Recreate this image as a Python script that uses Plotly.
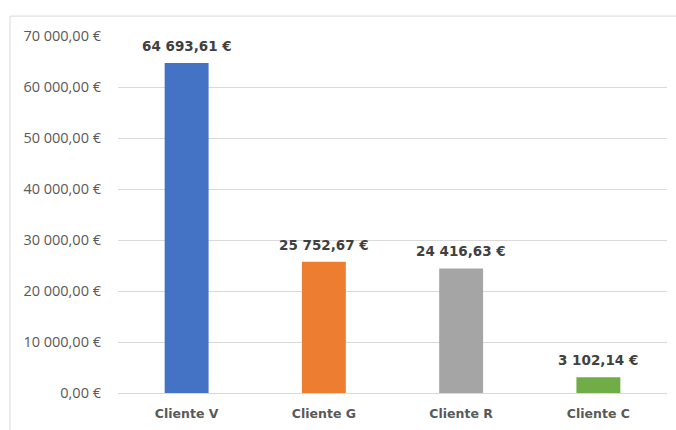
import plotly.graph_objects as go

categories = ["Cliente V", "Cliente G", "Cliente R", "Cliente C"]
values = [64693.61, 25752.67, 24416.63, 3102.14]
colors = ["#4472C4", "#ED7D31", "#A5A5A5", "#70AD47"]
tick_values = [0, 10000, 20000, 30000, 40000, 50000, 60000, 70000]


def eur(v):
    s = f"{v:,.2f}"
    return s.replace(",", " ").replace(".", ",") + " €"


tick_labels = [eur(v) for v in tick_values]
value_labels = [eur(v) for v in values]

W, H = 676, 430
ml, mr, mt, mb = 118, 9, 36, 35
pw, ph = W - ml - mr, H - mt - mb

fig = go.Figure(go.Bar(
    x=categories, y=values,
    marker=dict(color=colors, line=dict(width=0)),
    width=0.32,
    cliponaxis=False,
))

for c, v, t in zip(categories, values, value_labels):
    fig.add_annotation(
        x=c, y=v, text=t, showarrow=False, yanchor="bottom", yshift=7,
        font=dict(family="DejaVu Sans", size=13.5, color="#404040", weight="bold"),
    )


def px_x(x):
    return (x - ml) / pw


def px_y(y):
    return (H - mb - y) / ph


fig.update_layout(
    width=W, height=H,
    margin=dict(l=ml, r=mr, t=mt, b=mb),
    paper_bgcolor="white", plot_bgcolor="white",
    showlegend=False,
    xaxis=dict(
        showgrid=False, showline=False, ticks="",
        tickfont=dict(family="DejaVu Sans", size=12.5, color="#595959", weight="bold"),
        ticklabelstandoff=11,
    ),
    yaxis=dict(
        range=[0, 70000], tickvals=tick_values, ticktext=tick_labels,
        showgrid=True, gridcolor="#D9D9D9", gridwidth=1,
        zeroline=True, zerolinecolor="#D9D9D9", zerolinewidth=1,
        showline=False, ticks="",
        tickfont=dict(family="Open Sans", size=14.5, color="#595959"),
        ticklabelstandoff=16,
    ),
    shapes=[
        dict(type="line", xref="paper", yref="paper",
             x0=px_x(10), x1=px_x(W + 5), y0=px_y(16), y1=px_y(16),
             line=dict(color="#D9D9D9", width=1)),
        dict(type="line", xref="paper", yref="paper",
             x0=px_x(10), x1=px_x(10), y0=px_y(16), y1=px_y(H + 5),
             line=dict(color="#D9D9D9", width=1)),
    ],
)

fig.write_html("out.html")
